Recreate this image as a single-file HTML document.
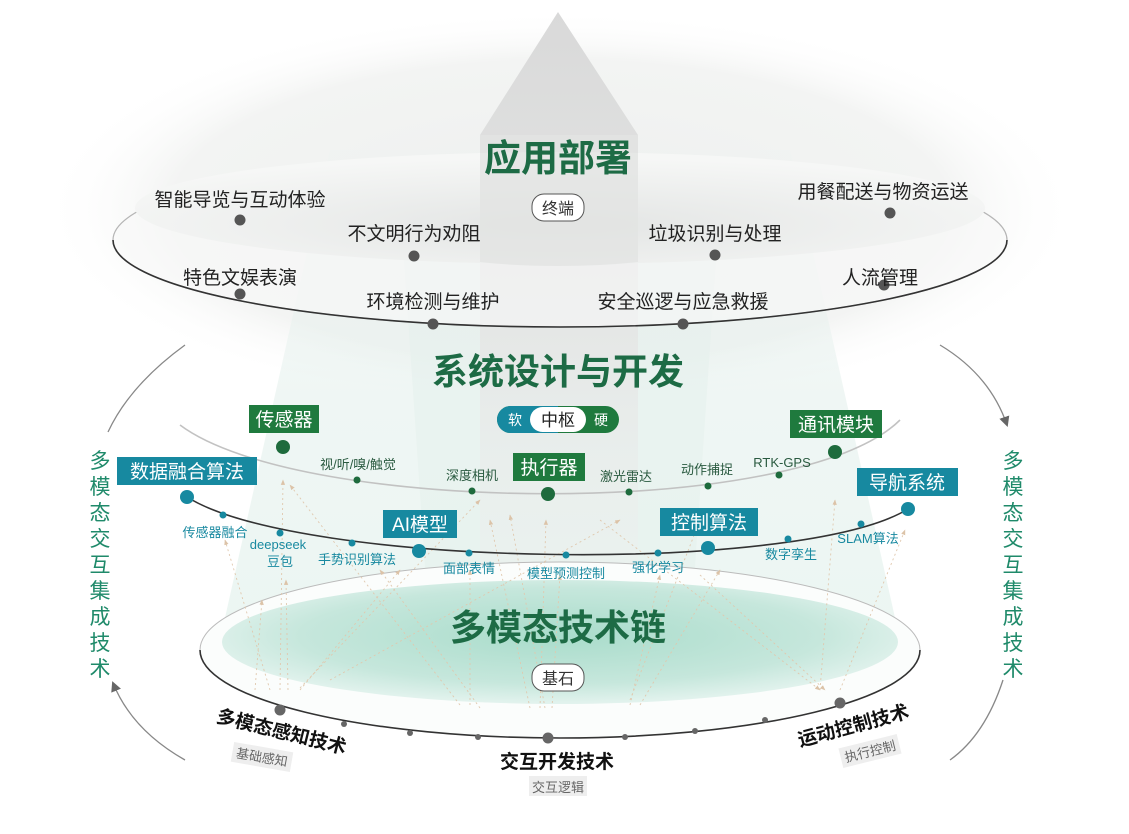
<!DOCTYPE html>
<html><head><meta charset="utf-8">
<style>
html,body{margin:0;padding:0;background:#fff;}
svg{display:block;font-family:"Liberation Sans","Noto Sans CJK SC",sans-serif;}
</style></head><body>
<svg width="1129" height="834" viewBox="0 0 1129 834" xmlns="http://www.w3.org/2000/svg">
<defs>
 <radialGradient id="bgG" cx="0.5" cy="0.5" r="0.5">
  <stop offset="0" stop-color="#eef0ef"/>
  <stop offset="0.75" stop-color="#f3f4f3"/>
  <stop offset="1" stop-color="#ffffff" stop-opacity="0"/>
 </radialGradient>
 <linearGradient id="coneG" x1="0" y1="0" x2="0" y2="1">
  <stop offset="0" stop-color="#e9f2ef" stop-opacity="0.2"/>
  <stop offset="0.5" stop-color="#e2efeb"/>
  <stop offset="1" stop-color="#dcefe8"/>
 </linearGradient>
 <linearGradient id="arrG" x1="0" y1="0" x2="0" y2="1">
  <stop offset="0" stop-color="#d9d9d9"/>
  <stop offset="0.5" stop-color="#e5e7e6"/>
  <stop offset="1" stop-color="#eef3f1" stop-opacity="0.3"/>
 </linearGradient>
 <radialGradient id="discG" cx="0.5" cy="0.45" r="0.55">
  <stop offset="0" stop-color="#a9dccb"/>
  <stop offset="0.7" stop-color="#c6e7dc"/>
  <stop offset="1" stop-color="#e3f3ee"/>
 </radialGradient>
 <radialGradient id="topG" cx="0.5" cy="0.65" r="0.6">
  <stop offset="0" stop-color="#e3e5e4"/>
  <stop offset="1" stop-color="#f6f7f6"/>
 </radialGradient>
 <marker id="ah" viewBox="0 0 10 10" refX="9" refY="5" markerWidth="6" markerHeight="6" orient="auto">
  <path d="M0,1 L10,5 L0,9 Z" fill="#dcc3a8"/>
 </marker>
 <marker id="gh" viewBox="0 0 10 10" refX="8" refY="5" markerWidth="8" markerHeight="8" orient="auto">
  <path d="M0,0 L10,5 L0,10 Z" fill="#666"/>
 </marker>
</defs>

<!-- background areas -->
<ellipse cx="560" cy="210" rx="520" ry="200" fill="url(#bgG)"/>
<polygon points="330,150 790,150 900,640 220,640" fill="url(#coneG)" opacity="0.55"/>
<polygon points="400,200 720,200 690,640 430,640" fill="#e4f0ec" opacity="0.5"/>
<!-- big arrow -->
<polygon points="558,12 638,135 638,650 480,650 480,135" fill="url(#arrG)"/>

<!-- top ellipse -->
<ellipse cx="560" cy="240" rx="447" ry="87" fill="#f8f9f8" fill-opacity="0.6" stroke="#b5b5b5" stroke-width="1.2"/>
<ellipse cx="560" cy="208" rx="425" ry="56" fill="url(#topG)"/>
<path d="M558 135 L638 135 L638 262 Q600 266 558 266 Q515 266 480 262 L480 135 Z" fill="#e2e3e2" opacity="0.8"/>
<path d="M113 240 A447 87 0 0 0 1007 240" fill="none" stroke="#333" stroke-width="1.6"/>

<!-- top nodes -->
<g fill="#555">
<circle cx="240" cy="220" r="5.5"/><circle cx="414" cy="256" r="5.5"/>
<circle cx="715" cy="255" r="5.5"/><circle cx="890" cy="213" r="5.5"/>
<circle cx="240" cy="294" r="5.5"/><circle cx="433" cy="324" r="5.5"/>
<circle cx="683" cy="324" r="5.5"/><circle cx="884" cy="285" r="5.5"/>
</g>
<g font-size="19" fill="#222">
<text x="240" y="206" text-anchor="middle">智能导览与互动体验</text>
<text x="414" y="240" text-anchor="middle">不文明行为劝阻</text>
<text x="715" y="240" text-anchor="middle">垃圾识别与处理</text>
<text x="883" y="198" text-anchor="middle">用餐配送与物资运送</text>
<text x="240" y="284" text-anchor="middle">特色文娱表演</text>
<text x="433" y="308" text-anchor="middle">环境检测与维护</text>
<text x="683" y="308" text-anchor="middle">安全巡逻与应急救援</text>
<text x="880" y="284" text-anchor="middle">人流管理</text>
</g>
<text x="558" y="171" text-anchor="middle" font-size="37" font-weight="bold" fill="#1d6b45">应用部署</text>
<rect x="532" y="194" width="52" height="27" rx="12" fill="#fff" stroke="#555"/>
<text x="558" y="214" text-anchor="middle" font-size="16" fill="#333">终端</text>

<!-- side arcs -->
<path d="M185 345 Q130 385 108 432" fill="none" stroke="#888" stroke-width="1.3"/>
<path d="M185 760 Q132 730 113 683" fill="none" stroke="#888" stroke-width="1.3" marker-end="url(#gh)"/>
<path d="M940 345 Q990 375 1007 425" fill="none" stroke="#888" stroke-width="1.3" marker-end="url(#gh)"/>
<path d="M1003 680 Q985 735 950 760" fill="none" stroke="#888" stroke-width="1.3"/>
<g font-size="21" fill="#1f8a6a" text-anchor="middle">
<text x="100" y="468">多</text><text x="100" y="494">模</text><text x="100" y="520">态</text><text x="100" y="546">交</text><text x="100" y="572">互</text><text x="100" y="598">集</text><text x="100" y="624">成</text><text x="100" y="650">技</text><text x="100" y="676">术</text>
<text x="1013" y="468">多</text><text x="1013" y="494">模</text><text x="1013" y="520">态</text><text x="1013" y="546">交</text><text x="1013" y="572">互</text><text x="1013" y="598">集</text><text x="1013" y="624">成</text><text x="1013" y="650">技</text><text x="1013" y="676">术</text>
</g>

<!-- bottom disc -->
<ellipse cx="560" cy="650" rx="360" ry="88" fill="#fbfdfc" stroke="#bbb" stroke-width="1"/>
<ellipse cx="560" cy="642" rx="338" ry="62" fill="url(#discG)"/>
<path d="M200 650 A360 88 0 0 0 920 650" fill="none" stroke="#333" stroke-width="1.6"/>
<g fill="#666">
<circle cx="280" cy="710" r="5.5"/><circle cx="548" cy="738" r="5.5"/><circle cx="840" cy="703" r="5.5"/>
<circle cx="344" cy="724" r="3"/><circle cx="410" cy="733" r="3"/><circle cx="478" cy="737" r="3"/>
<circle cx="625" cy="737" r="3"/><circle cx="695" cy="731" r="3"/><circle cx="765" cy="720" r="3"/>
</g>

<!-- dashed orange arrows -->
<g stroke="#e0c8ae" stroke-width="0.9" stroke-dasharray="2,3" fill="none" marker-end="url(#ah)">
<line x1="280" y1="690" x2="283" y2="480"/>
<line x1="270" y1="690" x2="225" y2="540"/>
<line x1="288" y1="690" x2="286" y2="580"/>
<line x1="300" y1="690" x2="400" y2="570"/>
<line x1="300" y1="688" x2="480" y2="500"/>
<line x1="255" y1="690" x2="262" y2="600"/>
<line x1="460" y1="705" x2="290" y2="485"/>
<line x1="480" y1="708" x2="380" y2="570"/>
<line x1="470" y1="705" x2="470" y2="570"/>
<line x1="530" y1="708" x2="490" y2="520"/>
<line x1="540" y1="708" x2="546" y2="520"/>
<line x1="552" y1="708" x2="560" y2="575"/>
<line x1="545" y1="708" x2="510" y2="515"/>
<line x1="630" y1="705" x2="660" y2="575"/>
<line x1="640" y1="705" x2="720" y2="570"/>
<line x1="330" y1="680" x2="620" y2="520"/>
<line x1="700" y1="575" x2="825" y2="690"/>
<line x1="820" y1="690" x2="835" y2="500"/>
<line x1="840" y1="690" x2="905" y2="530"/>
<line x1="600" y1="520" x2="820" y2="690"/>
<line x1="630" y1="700" x2="700" y2="520"/>
</g>

<!-- middle curves -->
<path d="M180 425 C300 515, 800 520, 900 420" fill="none" stroke="#c2c2c2" stroke-width="1.6"/>
<path d="M187 497 C300 568, 800 575, 908 509" fill="none" stroke="#333" stroke-width="1.6"/>
<path d="M908 509 Q950 480 940 440" fill="none" stroke="#fff" stroke-width="2"/>

<g fill="#1e6b3d">
<circle cx="357" cy="480" r="3.5"/><circle cx="472" cy="491" r="3.5"/><circle cx="629" cy="492" r="3.5"/><circle cx="708" cy="486" r="3.5"/><circle cx="779" cy="475" r="3.5"/>
</g>
<g fill="#1789a0">
<circle cx="223" cy="515" r="3.5"/><circle cx="280" cy="533" r="3.5"/><circle cx="352" cy="543" r="3.5"/><circle cx="469" cy="553" r="3.5"/><circle cx="566" cy="555" r="3.5"/><circle cx="658" cy="553" r="3.5"/><circle cx="788" cy="539" r="3.5"/><circle cx="861" cy="524" r="3.5"/>
</g>
<g font-size="13" fill="#2a5a40" text-anchor="middle">
<text x="358" y="469">视/听/嗅/触觉</text>
<text x="472" y="480">深度相机</text>
<text x="626" y="481">激光雷达</text>
<text x="707" y="474">动作捕捉</text>
<text x="782" y="467">RTK-GPS</text>
</g>
<g font-size="13" fill="#1889a0" text-anchor="middle">
<text x="215" y="537">传感器融合</text>
<text x="278" y="549">deepseek</text>
<text x="280" y="566">豆包</text>
<text x="357" y="564">手势识别算法</text>
<text x="469" y="573">面部表情</text>
<text x="566" y="578">模型预测控制</text>
<text x="658" y="572">强化学习</text>
<text x="791" y="559">数字孪生</text>
<text x="868" y="543">SLAM算法</text>
</g>

<!-- big nodes -->
<circle cx="283" cy="447" r="7" fill="#1e6b3d"/>
<circle cx="548" cy="494" r="7" fill="#1e6b3d"/>
<circle cx="835" cy="452" r="7" fill="#1e6b3d"/>
<circle cx="187" cy="497" r="7" fill="#1789a0"/>
<circle cx="419" cy="551" r="7" fill="#1789a0"/>
<circle cx="708" cy="548" r="7" fill="#1789a0"/>
<circle cx="908" cy="509" r="7" fill="#1789a0"/>

<g font-size="19" fill="#fff" text-anchor="middle">
<rect x="249" y="405" width="70" height="28" fill="#1f7a3e"/><text x="284" y="426">传感器</text>
<rect x="513" y="453" width="72" height="28" fill="#1f7a3e"/><text x="549" y="474">执行器</text>
<rect x="790" y="410" width="92" height="28" fill="#1f7a3e"/><text x="836" y="431">通讯模块</text>
<rect x="117" y="457" width="140" height="28" fill="#1789a0"/><text x="187" y="478">数据融合算法</text>
<rect x="383" y="510" width="74" height="28" fill="#1789a0"/><text x="420" y="531">AI模型</text>
<rect x="660" y="508" width="98" height="28" fill="#1789a0"/><text x="709" y="529">控制算法</text>
<rect x="857" y="468" width="101" height="28" fill="#1789a0"/><text x="907" y="489">导航系统</text>
</g>

<!-- titles -->
<text x="558" y="384" text-anchor="middle" font-size="36" font-weight="bold" fill="#1d6b45">系统设计与开发</text>
<rect x="497" y="406" width="122" height="27" rx="13.5" fill="#1f7a3e"/>
<path d="M510.5 406 H558 V433 H510.5 A13.5 13.5 0 0 1 510.5 406 Z" fill="#1789a0"/>
<rect x="530" y="407" width="56" height="25" rx="12.5" fill="#fff"/>
<text x="515" y="425" text-anchor="middle" font-size="14" fill="#fff">软</text>
<text x="558" y="426" text-anchor="middle" font-size="17" fill="#222">中枢</text>
<text x="601" y="425" text-anchor="middle" font-size="14" fill="#fff">硬</text>

<text x="558" y="640" text-anchor="middle" font-size="36" font-weight="bold" fill="#1d6b45">多模态技术链</text>
<rect x="532" y="664" width="52" height="27" rx="12" fill="#fff" stroke="#555"/>
<text x="558" y="684" text-anchor="middle" font-size="16" fill="#333">基石</text>

<!-- bottom labels -->
<g font-weight="bold" font-size="19" fill="#111" text-anchor="middle">
<text transform="translate(280,738) rotate(14)">多模态感知技术</text>
<text x="557" y="768">交互开发技术</text>
<text transform="translate(855,732) rotate(-15)">运动控制技术</text>
</g>
<rect x="529" y="776" width="58" height="20" fill="#eeeeee"/>
<text x="558" y="792" text-anchor="middle" font-size="13" fill="#666">交互逻辑</text>
<g transform="translate(262,757) rotate(10)"><rect x="-30" y="-10" width="60" height="20" fill="#eeeeee"/><text x="0" y="5" text-anchor="middle" font-size="13" fill="#666">基础感知</text></g>
<g transform="translate(870,751) rotate(-14)"><rect x="-30" y="-10" width="60" height="20" fill="#eeeeee"/><text x="0" y="5" text-anchor="middle" font-size="13" fill="#666">执行控制</text></g>
</svg>
</body></html>
